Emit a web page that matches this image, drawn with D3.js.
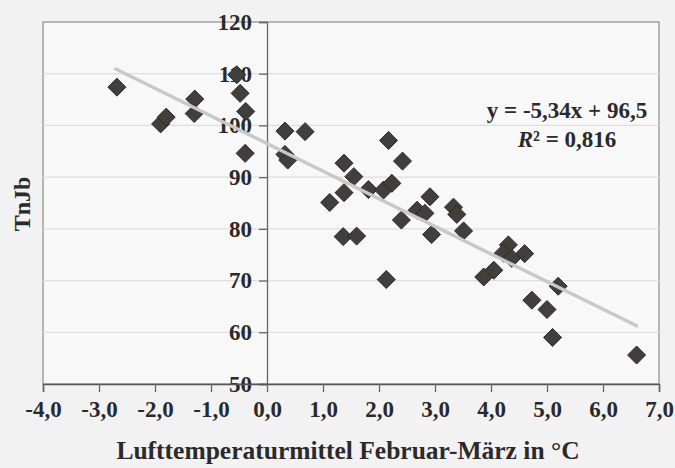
<!DOCTYPE html>
<html><head><meta charset="utf-8">
<script src="https://cdn.jsdelivr.net/npm/d3@7"></script>
<style>
html,body{margin:0;padding:0;background:#f2f2f2;}
svg{display:block;}
text{font-family:"Liberation Serif","Times New Roman",serif;font-weight:bold;fill:#2a2a2a;}
</style></head>
<body>
<script>
// Data
const tempX = [-2.68,-1.90,-1.80,-1.29,-1.30,-0.54,-0.48,-0.38,-0.39,0.32,0.68,0.32,0.37,1.12,1.375,1.55,1.375,1.81,2.08,2.23,2.17,2.42,1.36,1.60,2.40,2.68,2.82,2.91,2.94,2.13,3.33,3.39,3.51,3.87,4.05,4.31,4.22,4.37,4.60,5.20,4.73,5.00,5.10,6.60];
const tnjbY = [107.4,100.3,101.6,105.1,102.3,109.8,106.2,102.7,94.6,98.9,98.8,94.4,93.3,85.1,92.7,90.1,87.0,87.6,87.5,88.8,97.1,93.1,78.5,78.6,81.7,83.6,83.0,86.2,78.9,70.2,84.2,82.8,79.6,70.7,72.0,76.9,75.3,74.3,75.2,68.9,66.2,64.4,59.0,55.6];
const xTicks = [-4,-3,-2,-1,0,1,2,3,4,5,6,7];
const yTicks = [50,60,70,80,90,100,110,120];
const trendSlope = -5.34;
const trendIntercept = 96.5;
const trendRange = [-2.7, 6.6];
const eqLabel = "y = -5,34x + 96,5";
const r2Label = "0,816";
const xTitle = "Lufttemperaturmittel Februar-März in °C";
const yTitle = "TnJb";

const W = 675, H = 468;
const svg = d3.select("body").append("svg").attr("width", W).attr("height", H);

const x = d3.scaleLinear().domain([-4, 7]).range([43, 659]);
const y = d3.scaleLinear().domain([50, 120]).range([384, 22]);
const fmt = v => d3.format(".1f")(v).replace(".", ",").replace("\u2212", "-");

// plot area
svg.append("rect")
  .attr("x", x(-4)).attr("y", y(120))
  .attr("width", x(7) - x(-4)).attr("height", y(50) - y(120))
  .attr("fill", "#f8f8f8").attr("stroke", "#8c8c8c").attr("stroke-width", 1.2);

// gridlines
svg.append("g").selectAll("line")
  .data(yTicks.filter(d => d > 50 && d < 120))
  .join("line")
  .attr("x1", x(-4)).attr("x2", x(7))
  .attr("y1", d => y(d)).attr("y2", d => y(d))
  .attr("stroke", "#dedede").attr("stroke-width", 1.2);

// y axis at x = 0
const yAxis = svg.append("g").attr("transform", `translate(${x(0)},0)`)
  .call(d3.axisLeft(y).tickValues(yTicks).tickSize(8).tickPadding(7).tickFormat(d3.format("d")));
yAxis.select(".domain").attr("stroke", "#666").attr("stroke-width", 1.3);
yAxis.selectAll(".tick line").attr("stroke", "#666").attr("stroke-width", 1.3);
yAxis.selectAll("text").attr("font-size", 23).attr("font-family", null).attr("fill", "#2a2a2a");

// x axis at y = 50
const xAxis = svg.append("g").attr("transform", `translate(0,${y(50)})`)
  .call(d3.axisBottom(x).tickValues(xTicks).tickSize(8).tickPadding(9).tickFormat(fmt));
xAxis.select(".domain").attr("stroke", "#555").attr("stroke-width", 1.5);
xAxis.selectAll(".tick line").attr("stroke", "#666").attr("stroke-width", 1.3);
xAxis.selectAll("text").attr("font-size", 23).attr("font-family", null).attr("fill", "#2a2a2a");
svg.selectAll(".tick text").style("font-weight", "bold");

// points
const pts = tempX.map((v, i) => [v, tnjbY[i]]);
svg.append("g").selectAll("path")
  .data(pts).join("path")
  .attr("transform", d => `translate(${x(d[0])},${y(d[1])})`)
  .attr("d", "M0,-9L9,0L0,9L-9,0Z")
  .attr("fill", "#403f3b").attr("stroke", "#2a2926").attr("stroke-width", 1);

// trendline
const tl = trendRange.map(v => [v, trendSlope * v + trendIntercept]);
svg.append("path")
  .attr("d", d3.line().x(d => x(d[0])).y(d => y(d[1]))(tl))
  .attr("stroke", "#c8c8c8").attr("stroke-width", 3.5).attr("fill", "none")
  .attr("stroke-linecap", "round");

// equation labels
svg.append("text").attr("x", 567).attr("y", 118).attr("text-anchor", "middle")
  .attr("font-size", 23).text(eqLabel);
const r2 = svg.append("text").attr("x", 567).attr("y", 147).attr("text-anchor", "middle").attr("font-size", 23);
r2.append("tspan").attr("font-style", "italic").text("R");
r2.append("tspan").text("\u00B2 = " + r2Label);

// axis titles
svg.append("text").attr("x", 348).attr("y", 459).attr("text-anchor", "middle")
  .attr("font-size", 25.5).text(xTitle);
svg.append("text").attr("transform", "translate(30,204) rotate(-90)")
  .attr("text-anchor", "middle").attr("font-size", 24).text(yTitle);
</script>
</body></html>
